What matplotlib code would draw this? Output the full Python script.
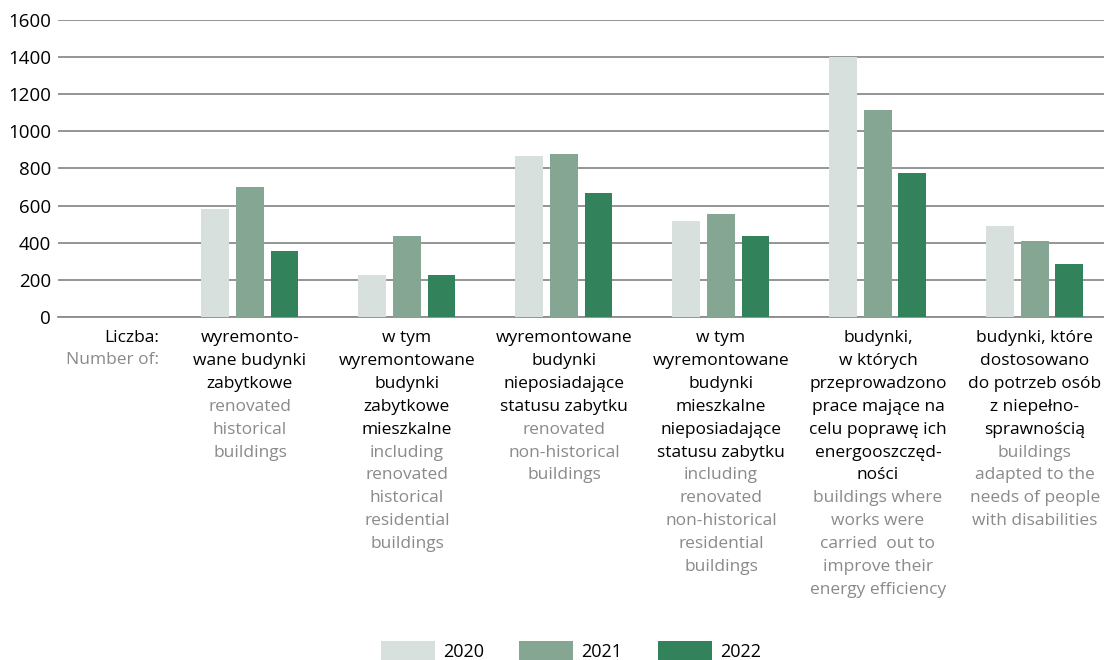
import matplotlib
matplotlib.use('Agg')
import matplotlib.pyplot as plt
import numpy as np
from matplotlib.patches import Patch

plt.rcParams['font.family'] = ['Open Sans', 'DejaVu Sans']

years = ['2020', '2021', '2022']
v2020 = [582, 226, 867, 517, 1400, 490]
v2021 = [700, 436, 878, 555, 1115, 409]
v2022 = [356, 226, 668, 436, 776, 285]
colors = ['#d7e0dc', '#84a692', '#32835c']

labels_pl = [
    ['wyremonto-', 'wane budynki', 'zabytkowe'],
    ['w tym', 'wyremontowane', 'budynki', 'zabytkowe', 'mieszkalne'],
    ['wyremontowane', 'budynki', 'nieposiadające', 'statusu zabytku'],
    ['w tym', 'wyremontowane', 'budynki', 'mieszkalne', 'nieposiadające', 'statusu zabytku'],
    ['budynki,', 'w których', 'przeprowadzono', 'prace mające na', 'celu poprawę ich',
     'energooszczęd-', 'ności'],
    ['budynki, które', 'dostosowano', 'do potrzeb osób', 'z niepełno-', 'sprawnością'],
]
labels_en = [
    ['renovated', 'historical', 'buildings'],
    ['including', 'renovated', 'historical', 'residential', 'buildings'],
    ['renovated', 'non-historical', 'buildings'],
    ['including', 'renovated', 'non-historical', 'residential', 'buildings'],
    ['buildings where', 'works were', 'carried  out to', 'improve their', 'energy efficiency'],
    ['buildings', 'adapted to the', 'needs of people', 'with disabilities'],
]
GRAY = '#8a8a8a'

fig = plt.figure(figsize=(11.04, 6.6), dpi=100)
ax = fig.add_axes([0.0525, 0.5197, 0.9475, 0.4503])

x = np.arange(1, len(v2020) + 1)
w = 0.178
off = 0.22
for i, (vals, c) in enumerate(zip([v2020, v2021, v2022], colors)):
    ax.bar(x + (i - 1) * off, vals, w, color=c, zorder=3)

ax.set_xlim(-0.223, 6.44)
ax.set_ylim(0, 1600)
ax.set_yticks(np.arange(0, 1601, 200))
ax.yaxis.grid(True, color='#8c8c8c', linewidth=1.3, zorder=0)
ax.set_xticks([])
ax.tick_params(axis='y', length=0, pad=5, labelsize=13.5)
for s in ['top', 'right', 'left']:
    ax.spines[s].set_visible(False)
ax.spines['bottom'].set_color('#8c8c8c')
ax.spines['bottom'].set_linewidth(1.3)

line_h = 16.5  # points
base = -18
tr = ax.get_xaxis_transform()
fs = 12.5

ax.annotate('Liczba:', xy=(0.42, 0), xycoords=tr, xytext=(0, base),
            textcoords='offset points', ha='right', va='baseline', fontsize=fs, color='black')
ax.annotate('Number of:', xy=(0.42, 0), xycoords=tr, xytext=(0, base - 15.5),
            textcoords='offset points', ha='right', va='baseline', fontsize=fs, color=GRAY)

for xi, pl, en in zip(x, labels_pl, labels_en):
    lines = [(t, 'black') for t in pl] + [(t, GRAY) for t in en]
    for j, (t, c) in enumerate(lines):
        ax.annotate(t, xy=(xi, 0), xycoords=tr, xytext=(0, base - j * line_h),
                    textcoords='offset points', ha='center', va='baseline',
                    fontsize=fs, color=c)

handles = [Patch(facecolor=c, edgecolor='none') for c in colors]
fig.legend(handles, years, loc='center', bbox_to_anchor=(0.517, 0.0136), ncol=3,
           frameon=False, fontsize=13, handlelength=3.0, handleheight=1.35,
           handletextpad=0.45, columnspacing=1.95)

fig.savefig('out.png', dpi=100)
